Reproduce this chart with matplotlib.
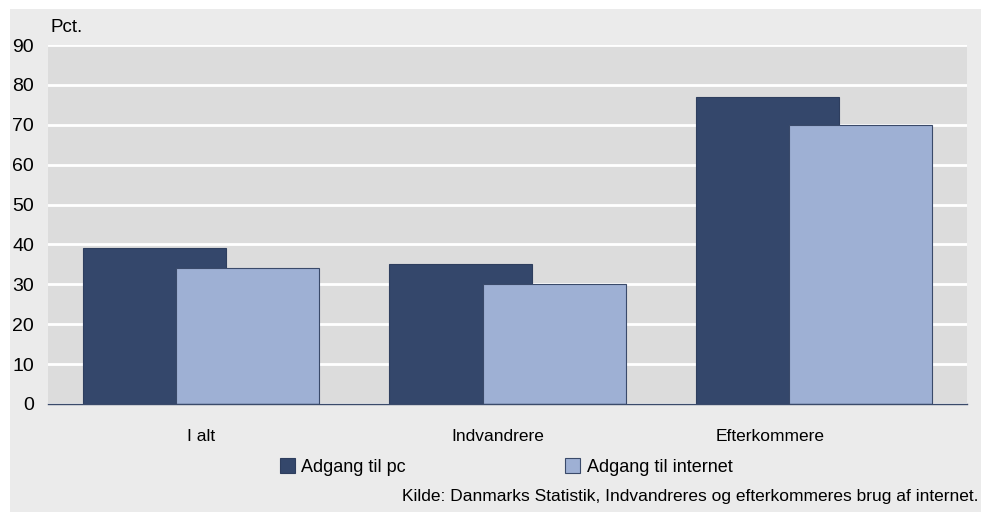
import matplotlib
matplotlib.use("Agg")
import matplotlib.pyplot as plt
from matplotlib.patches import Rectangle
import matplotlib.transforms as mtransforms
import numpy as np

categories = ["I alt", "Indvandrere", "Efterkommere"]
series_names = ["Adgang til pc", "Adgang til internet"]
pc = [39, 35, 77]
internet = [34, 30, 70]
yticks = [0, 10, 20, 30, 40, 50, 60, 70, 80, 90]

plt.rcParams['font.family'] = ['Liberation Sans', 'DejaVu Sans']

W, H = 981, 512
fig = plt.figure(figsize=(W/100, H/100), dpi=100)
fig.patch.set_facecolor('white')
fig.add_artist(Rectangle((10/W, 0), 1 - 10/W, 1 - 9/H, transform=fig.transFigure,
                         facecolor='#ebebeb', edgecolor='none', zorder=0))

ax = fig.add_axes([48/W, 1 - 404/H, (967-48)/W, (404-45)/H])
ax.set_facecolor('#dcdcdc')
x = np.arange(len(categories))
w = 0.467
off = 0.152
dark = '#34476b'
light = '#9eb0d4'
ax.bar(x - off, pc, width=w, color=dark, edgecolor='#2e3e5e', linewidth=0.8, zorder=3, label=series_names[0])
ax.bar(x + off, internet, width=w, color=light, edgecolor='#3a4a6a', linewidth=0.8, zorder=4, label=series_names[1])

ax.set_xlim(-0.5, 2.5)
ax.set_ylim(0, 90)
ax.set_yticks(yticks)
ax.set_yticklabels([str(t) for t in yticks], fontsize=14)
ax.grid(axis='y', color='white', linewidth=2, zorder=1)
ax.set_axisbelow(True)
ax.tick_params(axis='y', length=0, pad=10)
ax.tick_params(axis='x', length=0, pad=18)
ax.set_xticks(x)
ax.set_xticklabels(categories, fontsize=12.5)
shifts_px = [0, -10, -44]
for lbl, dx in zip(ax.get_xticklabels(), shifts_px):
    lbl.set_transform(lbl.get_transform() + mtransforms.ScaledTranslation(dx/100, 0, fig.dpi_scale_trans))
for s in ['top', 'right', 'left']:
    ax.spines[s].set_visible(False)
ax.spines['bottom'].set_color('#3a4a6a')
ax.spines['bottom'].set_linewidth(1)
ax.spines['bottom'].set_zorder(5)

fig.text(50/W, 1 - 28/H, "Pct.", fontsize=13.5, ha='left', va='center')

leg = fig.legend(handles=ax.patches[:1] + ax.patches[3:4], labels=series_names,
                 loc='center', bbox_to_anchor=(506/W, 1 - 467/H), ncol=2, frameon=False,
                 fontsize=13, handlelength=0.85, handleheight=0.85, handletextpad=0.35,
                 columnspacing=8.8)

fig.text(978/W, 1 - 497/H, "Kilde: Danmarks Statistik, Indvandreres og efterkommeres brug af internet.",
         fontsize=12.5, ha='right', va='center')

fig.savefig("out.png", dpi=100, facecolor=fig.get_facecolor())
